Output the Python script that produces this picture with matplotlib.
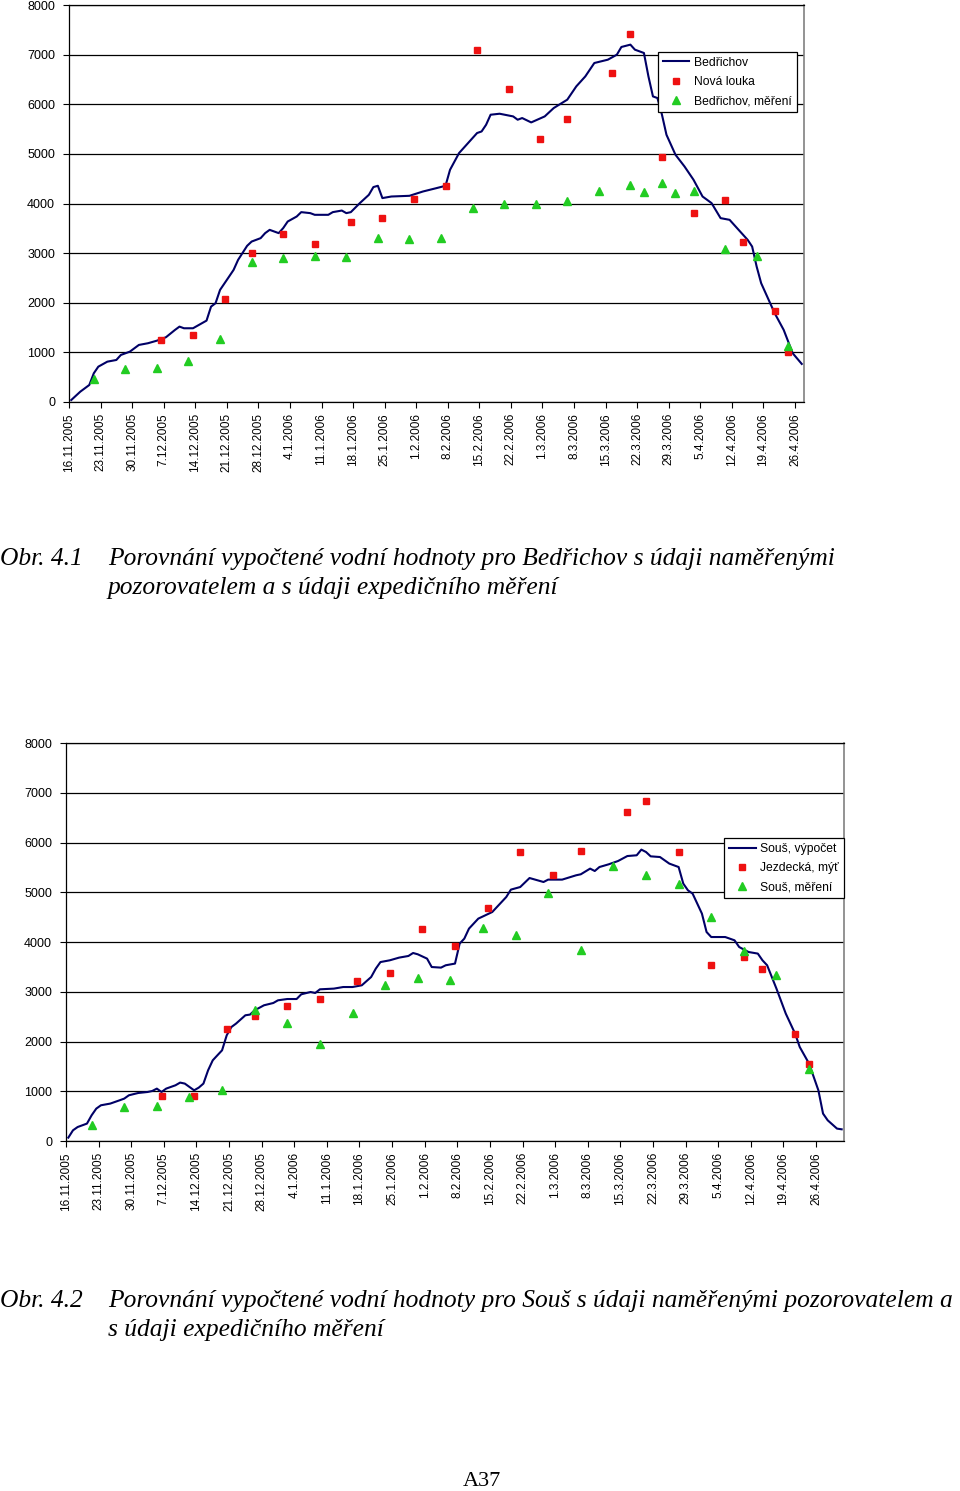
import numpy as np
import pandas as pd
import matplotlib
matplotlib.use("Agg")
from matplotlib import pyplot as plt

plt.rcParams['font.family'] = ['Liberation Sans', 'DejaVu Sans']

start = pd.Timestamp("2005-11-16")

# Bedřichov - výpočet (dny od 16.11.2005)
bed_den = [0, 2, 4, 5, 6, 8, 10, 11, 13, 15, 17, 19, 21, 23, 24, 25, 27, 30, 31, 32,
           33, 35, 36, 37, 39, 40, 42, 43, 44, 46, 47, 48, 50, 51, 53, 54, 57, 58, 60, 61,
           62, 64, 66, 67, 68, 69, 71, 75, 78, 81, 83, 84, 86, 88, 90, 91, 92, 93, 95, 98,
           99, 100, 102, 105, 107, 110, 112, 114, 116, 119, 121, 122, 124, 125, 127, 128, 129, 130, 131, 132,
           134, 136, 138, 140, 142, 144, 146, 148, 150, 151, 152, 153, 154, 156, 158, 160, 162]
bed_vyp = [40, 208, 343, 579, 712, 813, 847, 948, 1015, 1150, 1184, 1236, 1305, 1452, 1519, 1486, 1486, 1640, 1922, 1991,
           2259, 2527, 2662, 2864, 3147, 3233, 3302, 3403, 3469, 3403, 3504, 3637, 3738, 3826, 3806, 3772, 3772, 3826, 3858, 3806,
           3826, 4008, 4175, 4331, 4357, 4109, 4141, 4155, 4242, 4310, 4357, 4679, 5016, 5218, 5420, 5452, 5587, 5789, 5809, 5755,
           5688, 5722, 5634, 5755, 5924, 6092, 6360, 6561, 6831, 6898, 6999, 7154, 7201, 7100, 7033, 6561, 6158, 6125, 5789, 5385,
           4982, 4746, 4478, 4141, 4008, 3705, 3671, 3469, 3268, 3132, 2729, 2394, 2192, 1789, 1452, 982, 767]

# Nová louka
nl_den = [20, 27, 34, 40, 47, 54, 62, 69, 76, 83, 90, 97, 104, 110, 120, 124, 131, 138, 145, 149, 156, 159]
nl_val = [1250, 1345, 2070, 3010, 3381, 3179, 3635, 3703, 4099, 4361, 7102, 6304, 5308, 5699, 6639, 7413,
          4939, 3810, 4078, 3226, 1841, 1002]

# Bedřichov, měření
bm_den = [5, 12, 19, 26, 33, 40, 47, 54, 61, 68, 75, 82, 89, 96, 103, 110, 117, 124, 127, 131, 134, 138, 145, 152, 159]
bm_val = [464, 660, 686, 833, 1271, 2818, 2898, 2939, 2931, 3314, 3288, 3314, 3913, 4000, 4000, 4054, 4250,
          4371, 4230, 4423, 4209, 4250, 3092, 2939, 1136]

# Souš - výpočet
sv_den = [0, 1, 2, 4, 5, 6, 7, 9, 11, 12, 13, 15, 17, 18, 19, 20, 21, 23, 24, 25,
          27, 28, 29, 30, 31, 32, 33, 34, 35, 36, 38, 39, 40, 42, 44, 45, 47, 49, 50, 52,
          53, 54, 57, 59, 61, 63, 65, 66, 67, 69, 71, 73, 74, 75, 77, 78, 80, 81, 83, 84,
          85, 86, 88, 91, 94, 95, 97, 99, 102, 103, 106, 109, 110, 112, 113, 114, 116, 118, 120, 122,
          123, 124, 125, 127, 129, 131, 132, 133, 134, 136, 137, 138, 140, 141, 143, 144, 146, 148, 149, 150,
          152, 154, 156, 157, 159, 161, 162, 163, 165, 166]
sv_vyp = [68, 215, 281, 350, 517, 651, 718, 752, 818, 852, 919, 965, 985, 1005, 1053, 985, 1053, 1120, 1174, 1154,
          1019, 1073, 1154, 1421, 1622, 1723, 1823, 2125, 2291, 2360, 2527, 2541, 2627, 2728, 2774, 2828, 2854, 2854, 2949, 2995,
          2975, 3049, 3063, 3095, 3095, 3130, 3296, 3465, 3597, 3632, 3686, 3719, 3779, 3753, 3666, 3497, 3485, 3532, 3566, 3968,
          4068, 4269, 4470, 4603, 4904, 5053, 5105, 5286, 5206, 5254, 5254, 5341, 5361, 5475, 5427, 5507, 5562, 5628, 5728, 5743,
          5857, 5809, 5722, 5708, 5576, 5507, 5174, 5039, 4973, 4571, 4201, 4100, 4100, 4100, 4034, 3899, 3799, 3767, 3632, 3532,
          3063, 2561, 2159, 1889, 1556, 1019, 551, 416, 249, 235]

# Jezdecká, mýtina
jm_den = [20, 27, 34, 40, 47, 54, 62, 69, 76, 83, 90, 97, 104, 110, 120, 124, 131, 138, 145, 149, 156, 159]
jm_val = [913, 913, 2251, 2521, 2722, 2854, 3210, 3385, 4269, 3928, 4683, 5803, 5347, 5829, 6607, 6842,
          5803, 3538, 3706, 3457, 2159, 1542]

# Souš, měření
sm_den = [5, 12, 19, 26, 33, 40, 47, 54, 61, 68, 75, 82, 89, 96, 103, 110, 117, 124, 131, 138, 145, 152, 159]
sm_val = [322, 683, 697, 884, 1033, 2627, 2372, 1958, 2573, 3144, 3284, 3244, 4281, 4141, 4985, 3833, 5527,
          5347, 5174, 4510, 3819, 3337, 1441]

tick_den = np.arange(0, 162, 7)
tick_lab = [f"{d.day}.{d.month}.{d.year}" for d in start + pd.to_timedelta(tick_den, unit="D")]


def graf(ax, den, vyp, r_den, r_val, g_den, g_val, labels, xmax, anchor):
    # body jsou uprostřed dne, značky os na začátku dne
    ax.plot(np.array(den) + 0.5, vyp, color='#000066', lw=1.5, label=labels[0], zorder=3)
    ax.plot(np.array(r_den) + 0.5, r_val, 's', color='#ee1111', ms=4.5, ls='none', label=labels[1], zorder=4)
    ax.plot(np.array(g_den) + 0.5, g_val, '^', color='#22cc22', ms=5.5, ls='none', label=labels[2], zorder=5)
    ax.set_xlim(0, xmax)
    ax.set_ylim(0, 8000)
    ax.set_yticks(range(0, 8001, 1000))
    ax.set_yticklabels([str(v) for v in range(0, 8001, 1000)], fontsize=9)
    ax.yaxis.grid(True, color='black', lw=0.9)
    ax.set_axisbelow(True)
    ax.set_xticks(tick_den)
    ax.set_xticklabels(tick_lab, rotation=90, fontsize=8.5, ha='center', va='top')
    ax.tick_params(axis='x', direction='out', length=4, width=0.8, pad=4)
    ax.tick_params(axis='y', direction='out', length=4, width=0.8, pad=6)
    for s in ['left', 'bottom', 'top']:
        ax.spines[s].set_color('black')
        ax.spines[s].set_linewidth(0.9)
    ax.spines['right'].set_color('#808080')
    ax.spines['right'].set_linewidth(1.2)
    leg = ax.legend(loc='upper left', bbox_to_anchor=anchor, borderaxespad=0, fontsize=8.7,
                    numpoints=1, handlelength=2.2, handletextpad=0.4, labelspacing=0.6,
                    fancybox=False, framealpha=1, edgecolor='black', borderpad=0.4)
    leg.get_frame().set_linewidth(0.9)
    leg.set_zorder(10)


fig = plt.figure(figsize=(9.6, 14.91), dpi=100)

ax1 = fig.add_axes([69 / 960, 1 - 402 / 1491, 735 / 960, 397 / 1491])
graf(ax1, bed_den, bed_vyp, nl_den, nl_val, bm_den, bm_val,
     ["Bedřichov", "Nová louka", "Bedřichov, měření"], 163, (0.801, 0.882))

ax2 = fig.add_axes([66 / 960, 1 - 1141 / 1491, 778 / 960, 398 / 1491])
graf(ax2, sv_den, sv_vyp, jm_den, jm_val, sm_den, sm_val,
     ["Souš, výpočet", "Jezdecká, mýť", "Souš, měření"], 167, (0.846, 0.761))

cap = dict(family=['Liberation Serif', 'DejaVu Serif'], style='italic', fontsize=18.4, va='baseline')
H = 1491
fig.text(0 / 960, 1 - 565 / H, "Obr. 4.1", **cap)
fig.text(108 / 960, 1 - 565 / H, "Porovnání vypočtené vodní hodnoty pro Bedřichov s údaji naměřenými", **cap)
fig.text(108 / 960, 1 - 594 / H, "pozorovatelem a s údaji expedičního měření", **cap)
fig.text(0 / 960, 1 - 1307 / H, "Obr. 4.2", **cap)
fig.text(108 / 960, 1 - 1307 / H, "Porovnání vypočtené vodní hodnoty pro Souš s údaji naměřenými pozorovatelem a", **cap)
fig.text(108 / 960, 1 - 1336 / H, "s údaji expedičního měření", **cap)
fig.text(482 / 960, 1 - 1486 / H, "A37", family=['Liberation Serif', 'DejaVu Serif'], fontsize=16,
         ha='center', va='baseline')

fig.savefig("out.png", dpi=100)
